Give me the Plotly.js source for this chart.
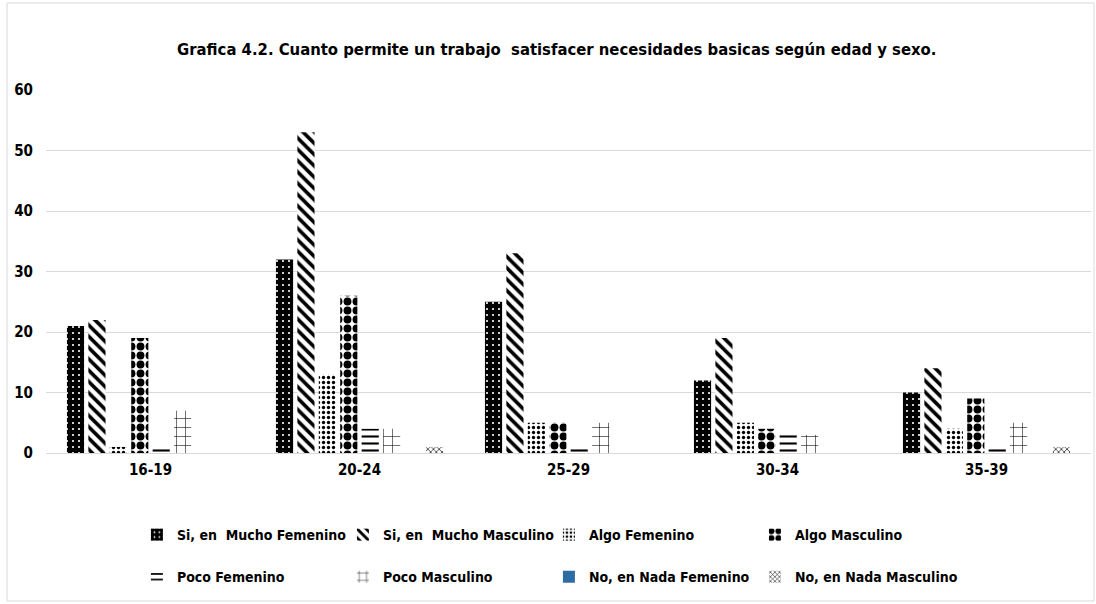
<!DOCTYPE html>
<html>
<head>
<meta charset="utf-8">
<script src="https://cdn.plot.ly/plotly-3.0.1.min.js"></script>
<style>
html,body{margin:0;padding:0;background:#fff;}
#chart{width:1096px;height:604px;}
</style>
</head>
<body>
<div id="chart"></div>
<script>
const categories = ["16-19", "20-24", "25-29", "30-34", "35-39"];
const seriesNames = [
  "Si, en  Mucho Femenino", "Si, en  Mucho Masculino", "Algo Femenino", "Algo Masculino",
  "Poco Femenino", "Poco Masculino", "No, en Nada Femenino", "No, en Nada Masculino"
];
const siMuchoFemenino  = [21, 32, 25, 12, 10];
const siMuchoMasculino = [22, 53, 33, 19, 14];
const algoFemenino     = [1, 13, 5, 5, 4];
const algoMasculino    = [19, 26, 5, 4, 9];
const pocoFemenino     = [1, 4, 1, 3, 1];
const pocoMasculino    = [7, 4, 5, 3, 5];
const nadaFemenino     = [0, 0, 0, 0, 0];
const nadaMasculino    = [0, 1, 0, 0, 1];
const yTicks = [0, 10, 20, 30, 40, 50, 60];

const values = [siMuchoFemenino, siMuchoMasculino, algoFemenino, algoMasculino,
                pocoFemenino, pocoMasculino, nadaFemenino, nadaMasculino];

const patterns = [
  {shape: ".", bgcolor: "#000000", fgcolor: "#ffffff", size: 6, solidity: 0.1},
  {shape: "\\", bgcolor: "#ffffff", fgcolor: "#000000", size: 8, solidity: 0.45},
  {shape: ".", bgcolor: "#ffffff", fgcolor: "#000000", size: 5, solidity: 0.35},
  {shape: ".", bgcolor: "#ffffff", fgcolor: "#000000", size: 9, solidity: 0.6},
  {shape: "-", bgcolor: "#ffffff", fgcolor: "#000000", size: 7, solidity: 0.3},
  {shape: "+", bgcolor: "#ffffff", fgcolor: "#000000", size: 9, solidity: 0.12},
  null,
  {shape: "x", bgcolor: "#ffffff", fgcolor: "#000000", size: 4, solidity: 0.3}
];

const FONT = "Liberation Sans Narrow, 'DejaVu Sans Condensed', Arial Narrow, sans-serif";

const traces = seriesNames.map((name, i) => {
  const marker = {color: i === 6 ? "#2E6DA4" : "#000000", line: {width: 0}};
  if (patterns[i]) marker.pattern = Object.assign({fillmode: "replace"}, patterns[i]);
  return {
    type: "bar",
    name: name,
    x: categories,
    y: values[i],
    marker: marker,
    legend: i < 4 ? "legend" : "legend2",
    hoverinfo: "x+y+name"
  };
});

const legendCommon = {
  orientation: "h",
  xanchor: "left",
  yanchor: "middle",
  font: {family: FONT, size: 14, color: "#000000", weight: "bold"},
  bgcolor: "rgba(0,0,0,0)",
  entrywidth: 161,
  entrywidthmode: "pixels",
  traceorder: "normal"
};

const layout = {
  width: 1096,
  height: 604,
  margin: {l: 46, r: 5, t: 90, b: 151},
  paper_bgcolor: "#ffffff",
  plot_bgcolor: "#ffffff",
  font: {family: FONT, color: "#000000"},
  title: {
    text: "<b>Grafica 4.2. Cuanto permite un trabajo  satisfacer necesidades basicas según edad y sexo.</b>",
    font: {family: FONT, size: 16.5, color: "#000000"},
    x: 0.508, xanchor: "center", y: 0.919, yanchor: "middle"
  },
  barmode: "group",
  bargap: 0.18,
  bargroupgap: 0.2,
  xaxis: {
    type: "category",
    tickfont: {family: FONT, size: 15, color: "#000000", weight: "bold"},
    showgrid: false,
    showline: false,
    ticks: "",
    ticklabelstandoff: 6
  },
  yaxis: {
    range: [0, 60],
    tickvals: yTicks,
    tickfont: {family: FONT, size: 15, color: "#000000", weight: "bold"},
    gridcolor: "#d9d9d9",
    gridwidth: 1,
    zeroline: true,
    zerolinecolor: "#d9d9d9",
    zerolinewidth: 1,
    showline: false,
    ticks: "",
    ticklabelstandoff: 12,
    fixedrange: true
  },
  legend: Object.assign({}, legendCommon, {x: 0.087, y: -0.226}),
  legend2: Object.assign({}, legendCommon, {x: 0.087, y: -0.342}),
  shapes: [{
    type: "rect", xref: "paper", yref: "paper",
    x0: -0.0373, x1: 1.0029, y0: -0.4077, y1: 1.2397,
    line: {color: "#d9d9d9", width: 1}, fillcolor: "rgba(0,0,0,0)", layer: "below"
  }]
};

Plotly.newPlot("chart", traces, layout, {displayModeBar: false, staticPlot: true});
</script>
</body>
</html>
